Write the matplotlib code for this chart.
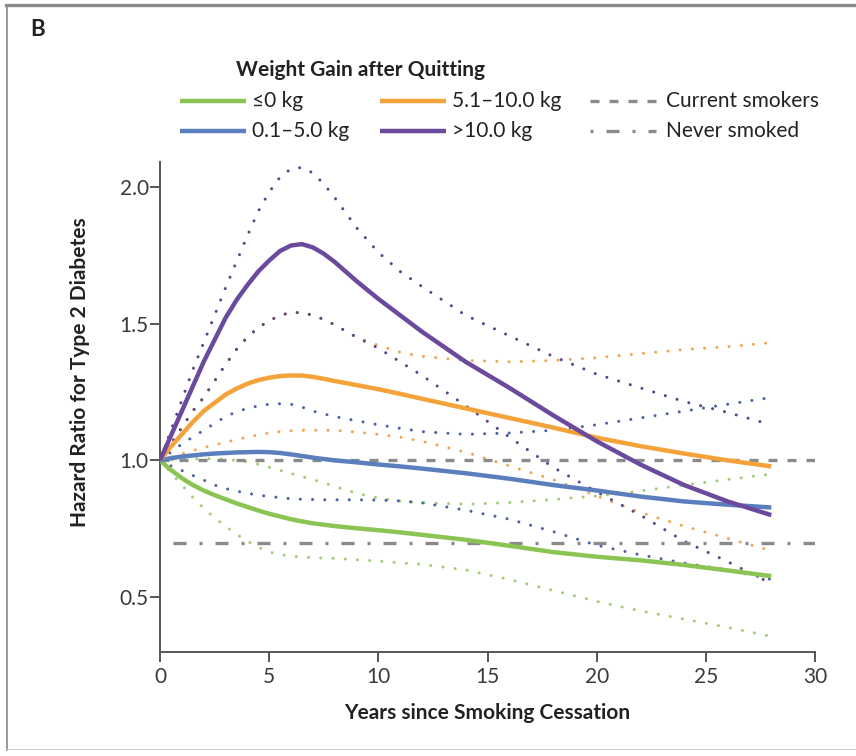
import matplotlib.pyplot as plt
from matplotlib.lines import Line2D

plt.rcParams['font.family'] = ['Lato', 'DejaVu Sans']

W, H = 856, 756

years = [0, 0.5, 1, 1.5, 2, 2.5, 3, 3.5, 4, 4.5, 5, 5.5, 6, 6.5, 7, 7.5, 8, 9, 10, 11, 12,
         14, 16, 18, 20, 22, 24, 26, 28]

# weight gain <=0 kg
hr_g0 = [1.0, 0.965, 0.935, 0.91, 0.89, 0.873, 0.858, 0.843, 0.83, 0.817, 0.805, 0.795,
         0.785, 0.777, 0.77, 0.765, 0.76, 0.752, 0.745, 0.737, 0.728,
         0.71, 0.688, 0.665, 0.648, 0.635, 0.618, 0.598, 0.577]
hi_g0 = [1.0, 1.002, 1.004, 1.005, 1.006, 1.006, 1.004, 1.0, 0.995, 0.986, 0.975, 0.964,
         0.952, 0.941, 0.93, 0.918, 0.905, 0.88, 0.862, 0.851, 0.845,
         0.84, 0.846, 0.857, 0.87, 0.888, 0.91, 0.93, 0.95]
lo_g0 = [1.0, 0.955, 0.91, 0.865, 0.825, 0.79, 0.76, 0.73, 0.705, 0.683, 0.665, 0.656,
         0.65, 0.647, 0.645, 0.643, 0.642, 0.637, 0.632, 0.626, 0.62,
         0.6, 0.565, 0.525, 0.485, 0.45, 0.42, 0.39, 0.357]

# 0.1-5.0 kg
hr_g1 = [1.0, 1.008, 1.014, 1.018, 1.022, 1.025, 1.027, 1.029, 1.03, 1.031, 1.03, 1.027,
         1.022, 1.016, 1.01, 1.005, 1.0, 0.993, 0.985, 0.978, 0.97,
         0.953, 0.933, 0.91, 0.89, 0.868, 0.85, 0.838, 0.828]
hi_g1 = [1.0, 1.03, 1.06, 1.085, 1.11, 1.135, 1.16, 1.177, 1.19, 1.199, 1.205, 1.207,
         1.205, 1.195, 1.18, 1.17, 1.16, 1.145, 1.13, 1.117, 1.105,
         1.095, 1.1, 1.11, 1.13, 1.155, 1.18, 1.205, 1.23]
lo_g1 = [1.0, 0.98, 0.963, 0.945, 0.928, 0.91, 0.897, 0.888, 0.88, 0.873, 0.868, 0.864,
         0.86, 0.858, 0.857, 0.856, 0.856, 0.856, 0.855, 0.852, 0.845,
         0.818, 0.785, 0.74, 0.69, 0.655, 0.625, 0.6, 0.565]

# 5.1-10.0 kg
hr_g2 = [1.0, 1.05, 1.095, 1.14, 1.18, 1.21, 1.24, 1.262, 1.28, 1.293, 1.302, 1.308,
         1.31, 1.31, 1.305, 1.298, 1.29, 1.275, 1.26, 1.243, 1.225,
         1.19, 1.155, 1.12, 1.083, 1.052, 1.025, 1.0, 0.978]
hi_g2 = [1.0, 1.06, 1.12, 1.18, 1.23, 1.29, 1.35, 1.405, 1.45, 1.485, 1.51, 1.53,
         1.54, 1.54, 1.53, 1.515, 1.495, 1.45, 1.42, 1.395, 1.38,
         1.365, 1.36, 1.365, 1.375, 1.39, 1.405, 1.415, 1.43]
lo_g2 = [1.0, 1.012, 1.024, 1.036, 1.047, 1.057, 1.066, 1.076, 1.085, 1.093, 1.1, 1.105,
         1.108, 1.11, 1.11, 1.11, 1.11, 1.103, 1.095, 1.085, 1.07,
         1.03, 0.98, 0.93, 0.87, 0.81, 0.76, 0.715, 0.67]

# >10.0 kg
hr_g3 = [1.0, 1.09, 1.18, 1.27, 1.36, 1.44, 1.52, 1.585, 1.64, 1.69, 1.73, 1.765,
         1.785, 1.79, 1.778, 1.755, 1.725, 1.655, 1.59, 1.53, 1.47,
         1.36, 1.265, 1.165, 1.07, 0.985, 0.91, 0.85, 0.80]
hi_g3 = [1.0, 1.11, 1.22, 1.33, 1.43, 1.53, 1.63, 1.725, 1.82, 1.91, 1.98, 2.035,
         2.065, 2.07, 2.05, 2.01, 1.96, 1.85, 1.76, 1.69, 1.635,
         1.53, 1.455, 1.38, 1.315, 1.265, 1.215, 1.175, 1.13]
lo_g3 = [1.0, 1.06, 1.12, 1.18, 1.23, 1.29, 1.35, 1.405, 1.45, 1.485, 1.51, 1.53,
         1.54, 1.54, 1.53, 1.515, 1.495, 1.45, 1.41, 1.36, 1.31,
         1.2, 1.085, 0.975, 0.885, 0.8, 0.705, 0.63, 0.55]

ref_x = [0, 30]
current_smokers = [1.0, 1.0]
never_smoked = [0.70, 0.70]

groups = [
    ('≤0 kg', hr_g0, hi_g0, lo_g0, '#8cc453', '#a3cc78'),
    ('0.1–5.0 kg', hr_g1, hi_g1, lo_g1, '#5b7ebd', '#4b63a3'),
    ('5.1–10.0 kg', hr_g2, hi_g2, lo_g2, '#f4a23a', '#eea755'),
    ('>10.0 kg', hr_g3, hi_g3, lo_g3, '#6b4a9e', '#574785'),
]

gray = '#8a8a8a'
dash_cur = (0, (2.7, 3.0))
dash_never = (8.7, (3.9, 3.9, 0.9, 3.9))
dot_style = (0, (0.01, 4.0))

fig = plt.figure(figsize=(W / 100, H / 100), dpi=100)
ax = fig.add_axes([160 / W, 1 - 652 / H, 655 / W, 490 / H])

# confidence bands as dotted lines
for _, mid, hi, lo, col, dcol in groups:
    for band in (hi, lo):
        ax.plot(years, band, color=dcol, lw=2.2, linestyle=dot_style,
                dash_capstyle='round', zorder=2)

ax.plot(ref_x, current_smokers, color=gray, lw=2.4, linestyle=dash_cur, zorder=3)
ax.plot(ref_x, never_smoked, color=gray, lw=2.4, linestyle=dash_never, zorder=3)

for _, mid, hi, lo, col, dcol in groups:
    ax.plot(years, mid, color=col, lw=3.2, solid_capstyle='butt',
            solid_joinstyle='round', zorder=4)

ax.set_xlim(0, 30)
ax.set_ylim(0.3, 2.09)
ax.set_xticks(range(0, 31, 5))
ax.set_yticks([0.5, 1.0, 1.5, 2.0])
ax.set_yticklabels(['0.5', '1.0', '1.5', '2.0'])

for side in ('top', 'right'):
    ax.spines[side].set_visible(False)
for side in ('left', 'bottom'):
    ax.spines[side].set_color('#555555')
    ax.spines[side].set_linewidth(1.4)

ax.tick_params(axis='both', direction='out', length=7, width=1.4, color='#555555',
               labelsize=15, labelcolor='#3a3a3a')
ax.tick_params(axis='x', pad=4)
ax.tick_params(axis='y', pad=1)

ax.set_xlabel('Years since Smoking Cessation', fontsize=15, fontweight='bold', color='#222222')
ax.xaxis.set_label_coords(0.5, -0.105)
ax.set_ylabel('Hazard Ratio for Type 2 Diabetes', fontsize=15, fontweight='bold', color='#222222')
ax.yaxis.set_label_coords(-0.107, 0.571)


def fx(x):
    return x / W


def fy(y):
    return 1 - y / H


# panel frame
fig.add_artist(Line2D([fx(6), 1], [fy(5), fy(5)], color='#8a8a8a', lw=2.4))
fig.add_artist(Line2D([fx(7), fx(7)], [fy(5), fy(750)], color='#8a8a8a', lw=1.2))
fig.add_artist(Line2D([fx(7), 1], [fy(749), fy(749)], color='#d0d0d0', lw=0.8))

fig.text(fx(30), fy(29), 'B', fontsize=16, fontweight='bold', color='#222222',
         ha='left', va='center')

# legend
fig.text(fx(236), fy(70), 'Weight Gain after Quitting', fontsize=15, fontweight='bold',
         color='#222222', ha='left', va='center')

legend_rows = [101, 131]
legend_cols = [180, 380]
for i, (label, mid, hi, lo, col, dcol) in enumerate(groups):
    x0 = legend_cols[i // 2]
    y0 = legend_rows[i % 2]
    fig.add_artist(Line2D([fx(x0), fx(x0 + 66)], [fy(y0), fy(y0)], color=col, lw=3.2,
                          solid_capstyle='butt'))
    fig.text(fx(x0 + 72), fy(y0), label, fontsize=15, color='#222222', ha='left', va='center')

fig.add_artist(Line2D([fx(590), fx(656)], [fy(101), fy(101)], color=gray, lw=2.4,
                      linestyle=dash_cur))
fig.text(fx(666), fy(101), 'Current smokers', fontsize=15, color='#222222', ha='left', va='center')
fig.add_artist(Line2D([fx(590), fx(656)], [fy(131), fy(131)], color=gray, lw=2.4,
                      linestyle=(0, (0.9, 3.9, 3.9, 3.9))))
fig.text(fx(666), fy(131), 'Never smoked', fontsize=15, color='#222222', ha='left', va='center')

fig.savefig('out.png', dpi=100)
